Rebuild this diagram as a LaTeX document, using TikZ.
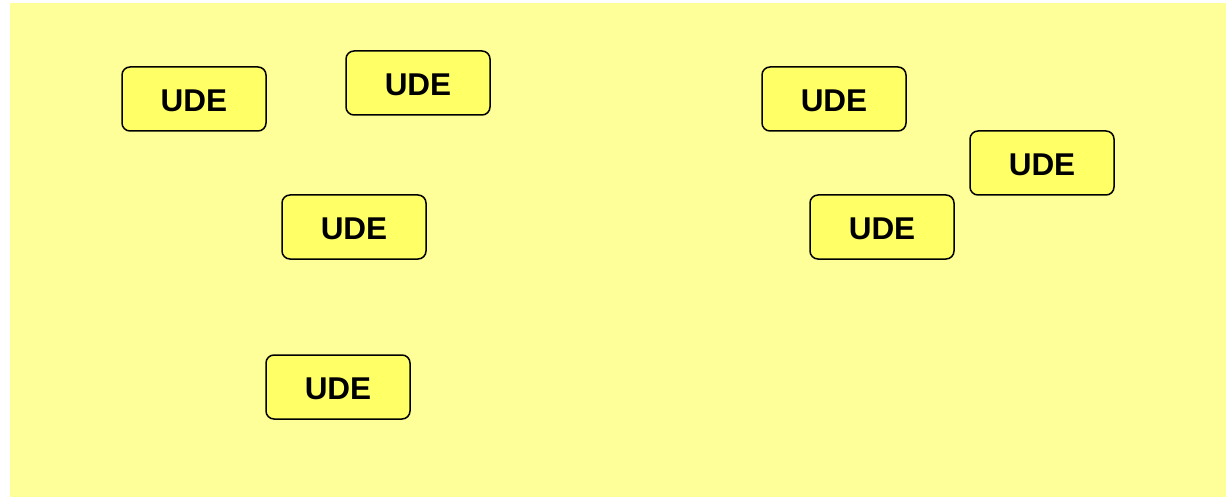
\documentclass[tikz,border=0pt]{standalone}
\usepackage{fontspec}
\setmainfont{Liberation Sans}
\definecolor{bgyellow}{HTML}{FFFF99}
\definecolor{boxyellow}{HTML}{FFFF66}
\begin{document}
\begin{tikzpicture}[x=1pt,y=-1pt,
  ude/.style={draw=black, line width=1.5pt, fill=boxyellow, rounded corners=8pt,
    minimum width=144pt, minimum height=64pt, inner sep=0pt,
    text height=24.8pt, text depth=0pt,
    font=\fontsize{31.5}{36}\selectfont\bfseries}]
\useasboundingbox (0,0) rectangle (1226,497);
\fill[bgyellow] (10,3) rectangle (1226,497);
\node[ude] (u1) at (194,99) {UDE};
\node[ude] (u2) at (418,83) {UDE};
\node[ude] (u3) at (354,227) {UDE};
\node[ude] (u4) at (338,387) {UDE};
\node[ude] (u5) at (834,99) {UDE};
\node[ude] (u6) at (1042,163) {UDE};
\node[ude] (u7) at (882,227) {UDE};
\end{tikzpicture}
\end{document}
